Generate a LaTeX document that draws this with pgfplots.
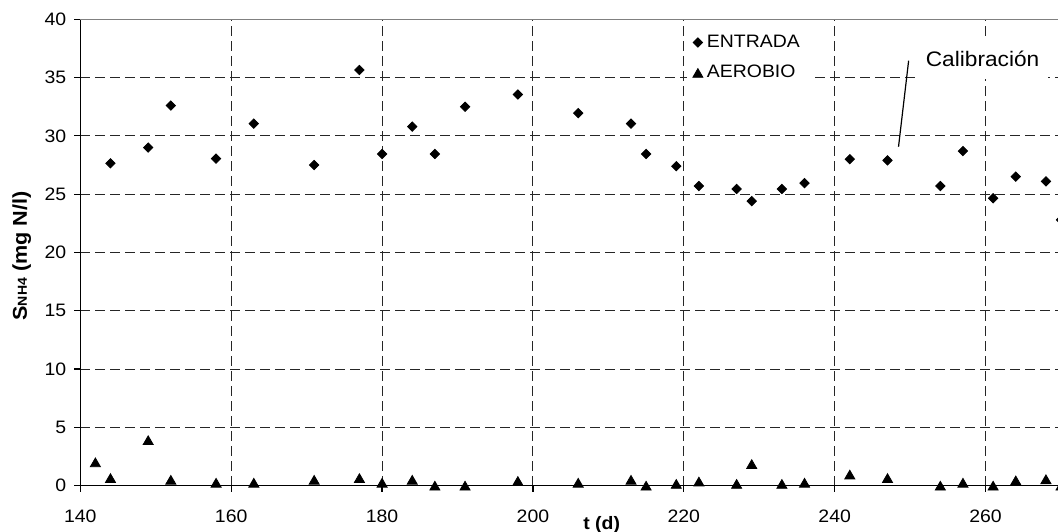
\documentclass[border=0pt]{standalone}
\usepackage{pgfplots}
\pgfplotsset{compat=1.18}
\usepackage{fontspec}
\setmainfont{Liberation Sans}[FakeStretch=1.08]
\begin{document}
\begin{tikzpicture}
\begin{axis}[
  name=ax,
  scale only axis,
  width=488.85pt, height=233.2pt,
  xmin=140, xmax=269.6, ymin=0, ymax=40,
  xtick={140,160,...,260}, ytick={0,5,...,40},
  axis lines*=left,
  axis line style={black, line width=0.6pt},
  tick align=outside,
  major tick length=3pt,
  tick style={black, line width=0.6pt},
  grid=major,
  major grid style={black!85, line width=0.5pt, dash pattern=on 5pt off 2.5pt},
  clip=false,
  /pgf/number format/assume math mode=true,
  ticklabel style={font=\fontsize{9}{10}\selectfont},
  xticklabel style={yshift=-5.5pt},
  yticklabel style={xshift=-0.5pt},
  xlabel={\bfseries t (d)},
  xlabel style={at={([yshift=-19.5pt]rel axis cs:0.5333,0)}, anchor=center, font=\fontsize{9}{10}\selectfont},
  ylabel={\bfseries S{\fontsize{6.5}{7}\selectfont NH4} (mg N/l)},
  ylabel style={at={([xshift=-29.3pt]rel axis cs:0,0.4925)}, anchor=center, font=\fontsize{10}{12}\selectfont},
  legend style={at={(0.62,0.9175)}, anchor=west, draw=none, fill=white,
    font=\fontsize{9}{10}\selectfont, row sep=3.5pt, inner sep=3pt,
    /tikz/every even column/.append style={column sep=2pt}},
  legend cell align=left,
  legend image code/.code={\draw[#1] plot coordinates {(0pt,0pt)};},
]
\addplot[only marks, mark=square*, mark size=1.65pt, mark options={rotate=45, fill=black, draw=black}] coordinates {
(144,27.65) (149,29.0) (152,32.6) (158,28.05) (163,31.05) (171,27.5) (177,35.65)
(180,28.45) (184,30.8) (187,28.45) (191,32.5) (198,33.55) (206,31.95) (213,31.05)
(215,28.45) (219,27.4) (222,25.7) (227,25.45) (229,24.4) (233,25.45) (236,25.95)
(242,28.0) (247,27.9) (254,25.7) (257,28.7) (261,24.65) (264,26.5) (268,26.1) (270,22.8)
};
\addlegendentry{ENTRADA}
\addplot[only marks, mark=triangle*, mark size=2.9pt, mark options={yshift=-0.72pt, fill=black, draw=black}] coordinates {
(142,2.0) (144,0.65) (149,3.9) (152,0.5) (158,0.25) (163,0.25) (171,0.5) (177,0.65)
(180,0.25) (184,0.5) (187,0.0) (191,0.0) (198,0.4) (206,0.25) (213,0.5) (215,0.0)
(219,0.15) (222,0.35) (227,0.15) (229,1.85) (233,0.15) (236,0.25) (242,0.95) (247,0.65)
(254,0.0) (257,0.25) (261,0.0) (264,0.45) (268,0.55) (270,0.0)
};
\addlegendentry{AEROBIO}
\draw[black!50, line width=0.65pt] (rel axis cs:0,1) -- (rel axis cs:1,1);
\draw[black, line width=0.6pt] (axis cs:249.8,36.45) -- (axis cs:248.46,29.07);
\node[fill=white, minimum width=65.5pt, minimum height=20pt, inner sep=0pt,
  font=\fontsize{10.5}{12}\selectfont] at (axis cs:259.6,36.6) {Calibración};
\end{axis}
\pgfresetboundingbox
\path[use as bounding box] ([shift={(-40.15pt,-23.15pt)}]ax.south west) rectangle ([yshift=9.65pt]ax.north east);
\end{tikzpicture}
\end{document}
